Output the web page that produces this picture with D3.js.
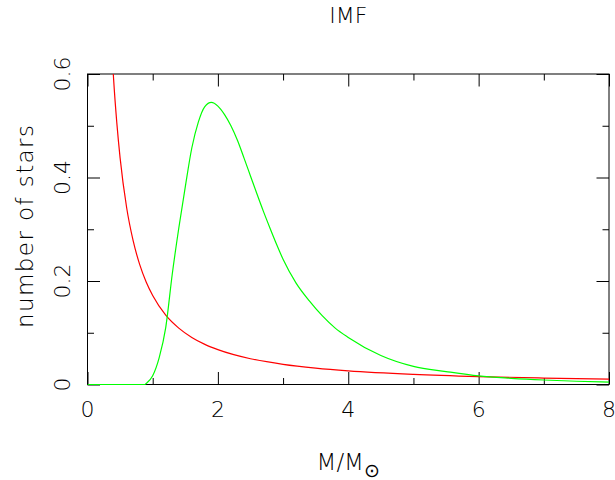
<!DOCTYPE html>
<html><head><meta charset="utf-8">
<script src="https://cdn.jsdelivr.net/npm/d3@7"></script>
<style>
body{margin:0;background:#fff;}
text{font-family:"DejaVu Sans",sans-serif;font-weight:200;fill:#000;}
</style></head>
<body><svg id="c" width="615" height="480"></svg>
<script>
const title = "IMF";
const xLabel = "M/M";
const yLabel = "number of stars";
const xMajorTicks = [0, 2, 4, 6, 8];
const xMinorTicks = [1, 3, 5, 7];
const yMajorTicks = [0, 0.2, 0.4, 0.6];
const yMinorTicks = [0.1, 0.3, 0.5];
const xTickLabels = ["0", "2", "4", "6", "8"];
const yTickLabels = ["0", "0.2", "0.4", "0.6"];

const redMass = [0.39,0.4,0.45,0.5,0.6,0.7,0.8,0.9,1.0,1.2,1.4,1.6,1.8,2.0,2.5,3.0,3.5,4.0,5.0,6.0,7.0,8.0];
const redCount = [0.612,0.591,0.505,0.438,0.342,0.278,0.232,0.198,0.172,0.134,0.109,0.091,0.0776,0.0674,0.0498,0.039,0.0317,0.0264,0.0196,0.0153,0.0124,0.0104];

const greenMass = [0,0.2,0.4,0.6,0.8,0.88,0.9,1.0,1.1,1.2,1.3,1.4,1.5,1.6,1.7,1.8,1.9,2.0,2.1,2.2,2.3,2.4,2.5,2.6,2.7,2.8,2.9,3.0,3.2,3.4,3.6,3.8,4.0,4.5,5.0,5.5,6.0,6.5,7.0,7.5,8.0];
const greenCount = [0,0,0,0,0,0,0.002,0.017,0.052,0.11,0.213,0.302,0.382,0.457,0.507,0.537,0.545,0.538,0.522,0.5,0.472,0.438,0.403,0.368,0.334,0.302,0.271,0.242,0.196,0.162,0.133,0.109,0.091,0.056,0.035,0.025,0.0165,0.012,0.0087,0.0063,0.0045];

const svg = d3.select("#c");
const L = 87.5, R = 609, T = 74, B = 384.5;
const x = d3.scaleLinear().domain([0, 8]).range([L, R]);
const y = d3.scaleLinear().domain([0, 0.6]).range([B, T]);

svg.append("defs").append("clipPath").attr("id","clip")
  .append("rect").attr("x",L).attr("y",T).attr("width",R-L).attr("height",B-T+3);

function addAxis(axisFn, scale, ticks, size, transform){
  const a = svg.append("g").attr("transform",transform)
    .call(axisFn(scale).tickValues(ticks).tickSize(size).tickFormat(""));
  a.select(".domain").remove();
  a.selectAll("line").attr("stroke","#000").attr("stroke-width",1);
  return a;
}
// major and minor ticks on all four sides, pointing inward
addAxis(d3.axisBottom, x, xMajorTicks, -12.5, `translate(0,${B})`);
addAxis(d3.axisBottom, x, xMinorTicks, -6.5, `translate(0,${B})`);
addAxis(d3.axisTop, x, xMajorTicks, -12.5, `translate(0,${T})`);
addAxis(d3.axisTop, x, xMinorTicks, -6.5, `translate(0,${T})`);
addAxis(d3.axisLeft, y, yMajorTicks, -12.5, `translate(${L},0)`);
addAxis(d3.axisLeft, y, yMinorTicks, -6.5, `translate(${L},0)`);
addAxis(d3.axisRight, y, yMajorTicks, -12.5, `translate(${R},0)`);
addAxis(d3.axisRight, y, yMinorTicks, -6.5, `translate(${R},0)`);

svg.append("rect").attr("x",L).attr("y",T).attr("width",R-L).attr("height",B-T)
  .attr("fill","none").attr("stroke","#000").attr("stroke-width",1);

const line = d3.line().x(d=>x(d[0])).y(d=>y(d[1])).curve(d3.curveMonotoneX);
const g = svg.append("g").attr("clip-path","url(#clip)");
g.append("path").datum(redMass.map((m,i)=>[m,redCount[i]]))
  .attr("d",line).attr("fill","none").attr("stroke","#ff0000").attr("stroke-width",1.2);
g.append("path").datum(greenMass.map((m,i)=>[m,greenCount[i]]))
  .attr("d",line).attr("fill","none").attr("stroke","#00ff00").attr("stroke-width",1.2);

// tick labels
svg.append("g").selectAll("text").data(xMajorTicks).join("text")
  .attr("x",d=>x(d)).attr("y",B+32.2).attr("text-anchor","middle")
  .style("font-size","22px").text((d,i)=>xTickLabels[i]);
svg.append("g").selectAll("text").data(yMajorTicks).join("text")
  .attr("transform",d=>`translate(70,${y(d)}) rotate(-90)`).attr("text-anchor","middle")
  .style("font-size","22px").text((d,i)=>yTickLabels[i]);

// titles
svg.append("text").attr("x",(L+R)/2).attr("y",22.7).attr("text-anchor","middle")
  .style("font-size","22px").text(title);
svg.append("text").attr("transform",`translate(33,226.5) rotate(-90)`).attr("text-anchor","middle")
  .style("font-size","23px").attr("textLength",203).attr("lengthAdjust","spacing").text(yLabel);
const xl = svg.append("text").attr("x",(L+R)/2).attr("y",470).attr("text-anchor","middle")
  .style("font-size","23px");
xl.append("tspan").text(xLabel);
xl.append("tspan").attr("dy",7).style("font-size","19px").text("\u2299");
</script></body></html>
